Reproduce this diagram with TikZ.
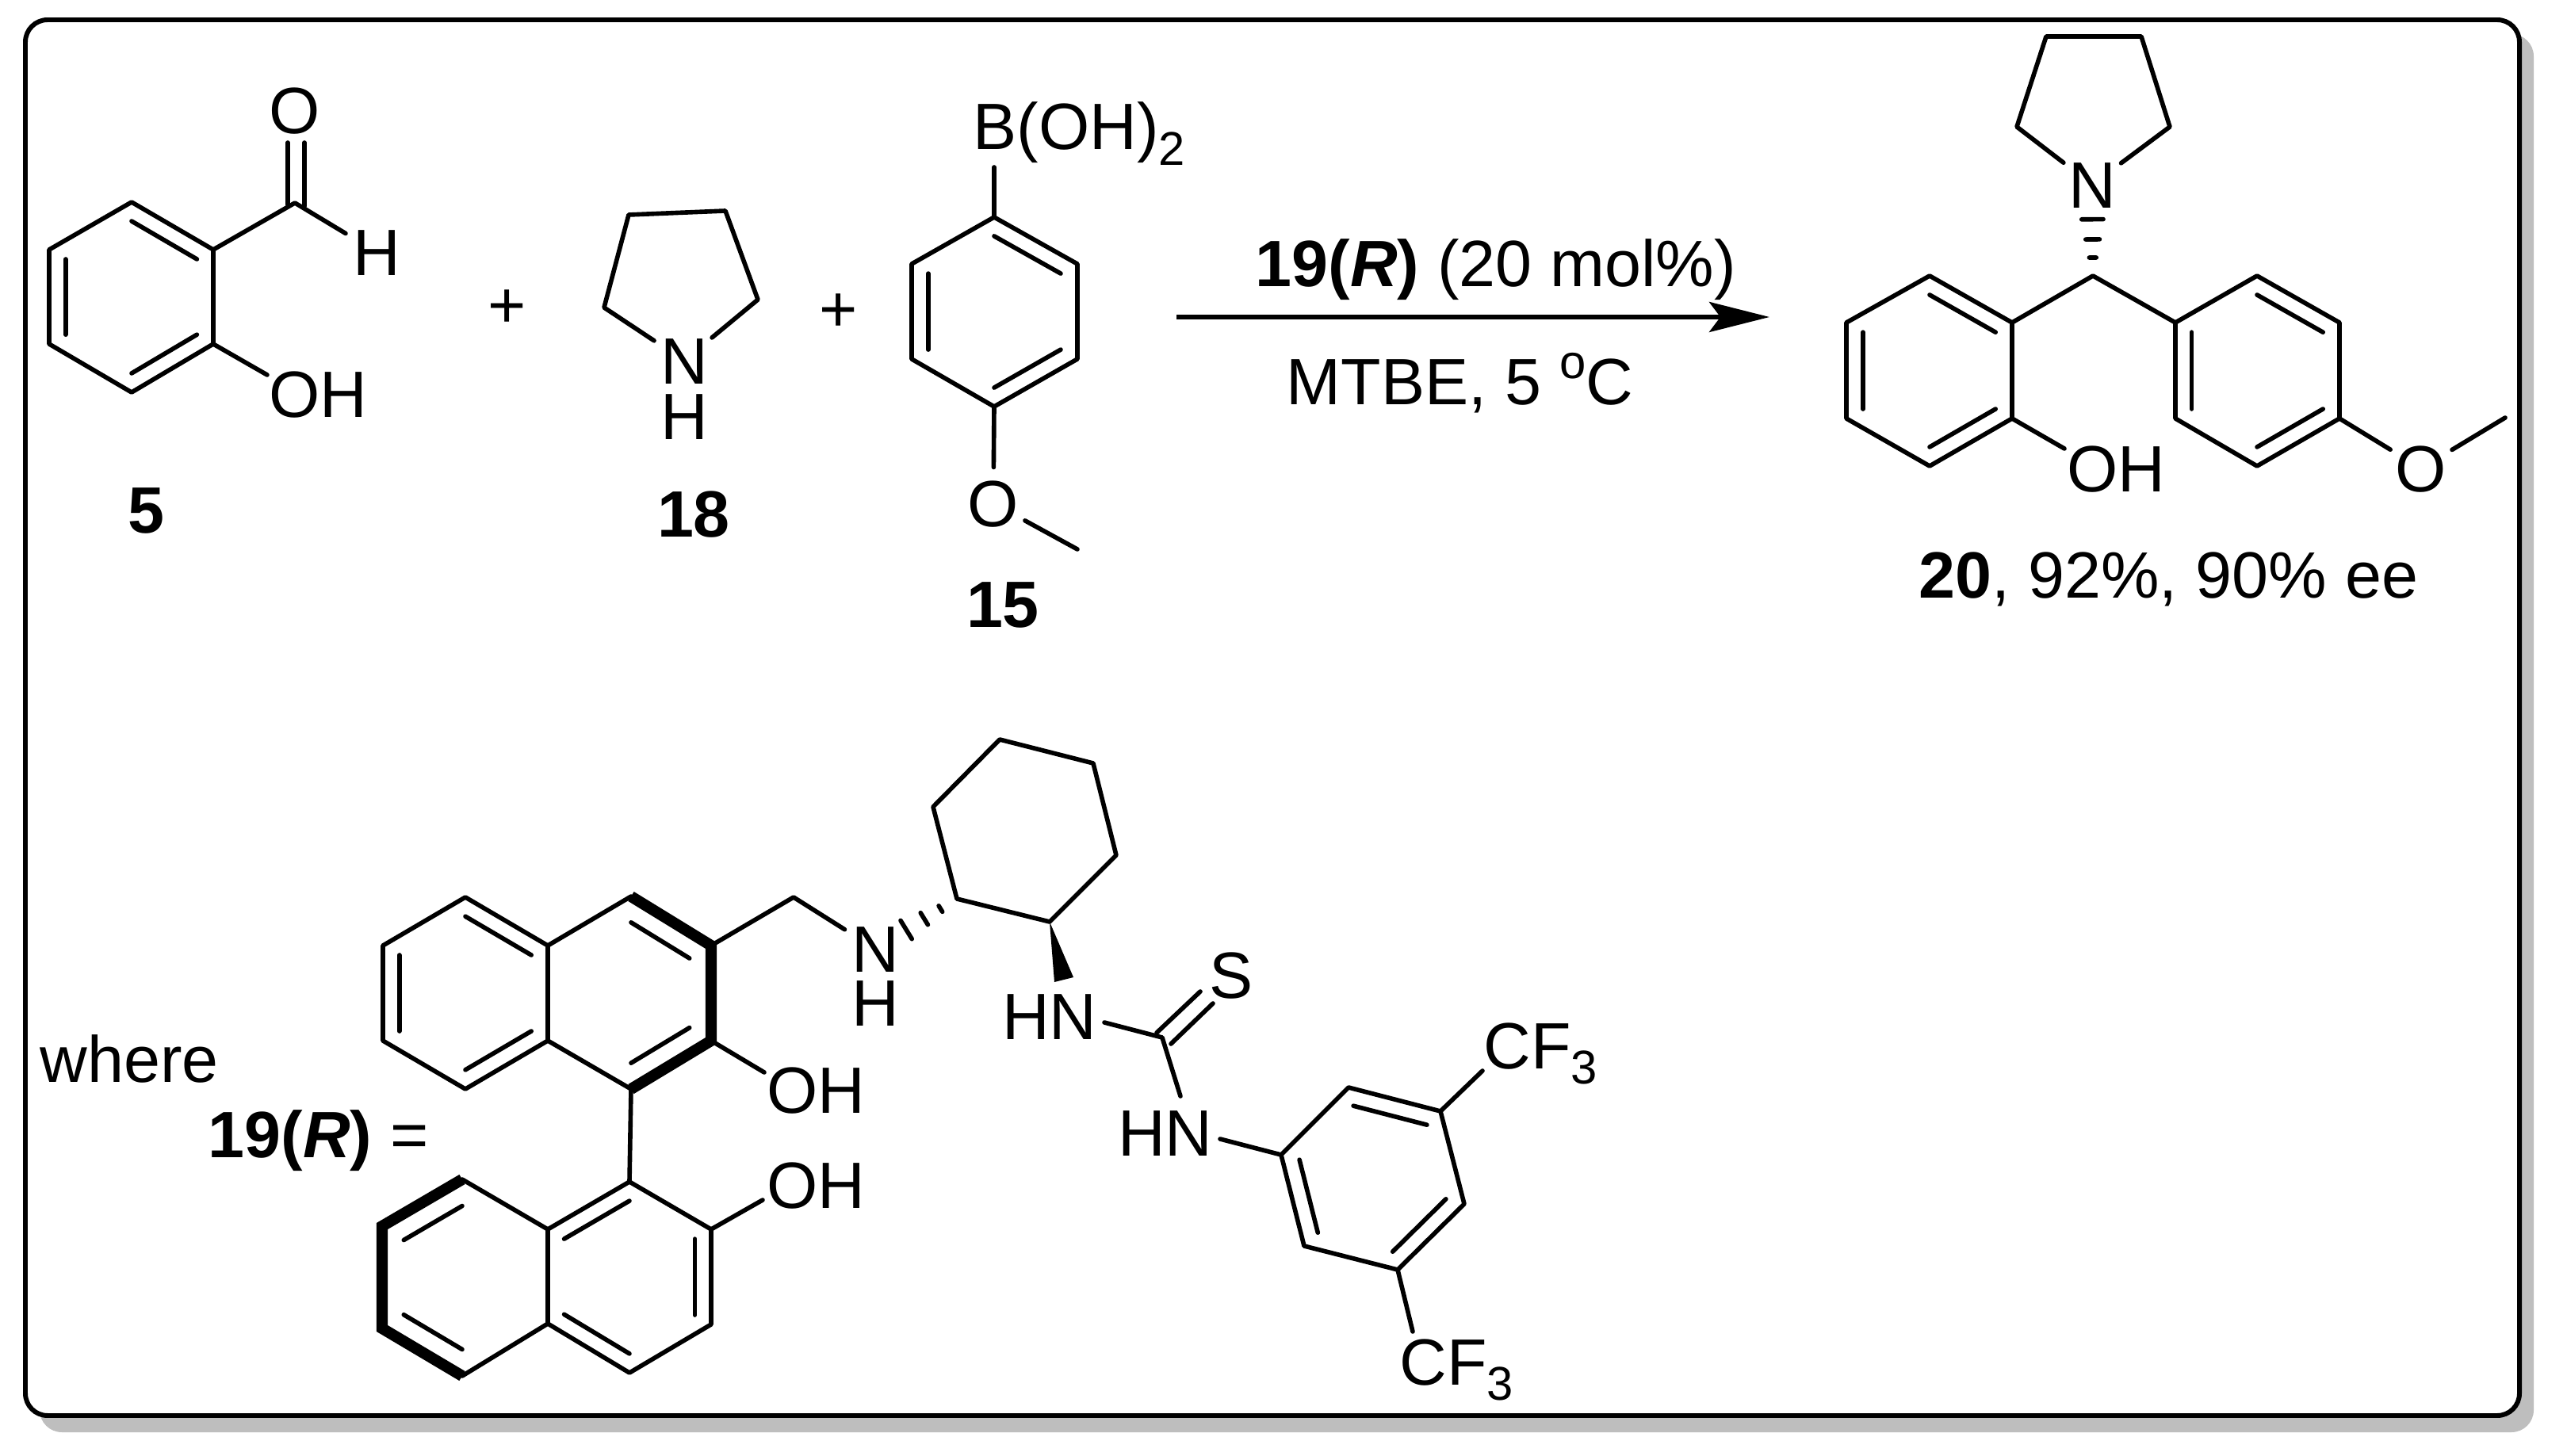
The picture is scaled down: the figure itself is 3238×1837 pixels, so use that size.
\documentclass[tikz,border=0pt]{standalone}
\usepackage{fontspec}
\setmainfont{Liberation Sans}
\usepackage{tikz}
\usetikzlibrary{calc,arrows.meta}
\definecolor{shadowgray}{HTML}{BEBEBE}
\newcommand{\lowsub}[1]{\raisebox{-5.6pt}{\fontsize{17}{17}\selectfont #1}}
\newcommand{\highsup}[1]{\raisebox{9.4pt}{\fontsize{17}{17}\selectfont #1}}
\newcommand{\innerbond}[4][0.2]{\draw[bond] ($(#2)!#1!(#4)$) -- ($(#3)!#1!(#4)$);}
\newcommand{\hashbond}[2]{\foreach \f in {0.2,0.4,0.62} {\draw[bond] ($(#1)!\f!(#2)!6.26pt*\f!90:(#2)$) -- ($(#1)!\f!(#2)!6.26pt*\f!-90:(#2)$);}}

\begin{document}
\begin{tikzpicture}[x=0.01cm, y=-0.01cm,
        every node/.style={font=\fontsize{23.5}{28}\selectfont, inner sep=0pt},
        bond/.style={line width=1.6pt, line cap=round, line join=round},
        boldbond/.style={line width=4pt, line join=miter},
        atom/.style={circle, minimum size=25.5pt, text height=16.8pt, text depth=0pt},
        chem/.style={text height=16.8pt, text depth=0pt},
        number/.style={font=\fontsize{23.5}{28}\selectfont\bfseries},
        reaction/.style={line width=1.6pt, -{Stealth[length=21.6pt, width=10.8pt, inset=4pt]}}]
    \useasboundingbox (0,0) rectangle (3238,1837);
    \fill[shadowgray, rounded corners=0.28cm] (50,43) rectangle (3196,1807);
    \draw[line width=1.7pt, fill=white, rounded corners=0.28cm] (32,25) rectangle (3178,1786);

    \coordinate (a1) at (166,255); \coordinate (a2) at (269,315); \coordinate (a3) at (269,434);
    \coordinate (a4) at (166,495); \coordinate (a5) at (62,434); \coordinate (a6) at (62,315);
    \coordinate (ac) at ($(a1)!0.5!(a4)$);
    \coordinate (cho) at (372,256);
    \coordinate (choa) at (363,180); \coordinate (choa2) at (363,258);
    \coordinate (chob) at (384,180); \coordinate (chob2) at (384,260);
    \coordinate (ohend1) at (337,473);
    \node[atom] (choO) at (372,139) {O};
    \node[atom] (choH) at (475,318) {H};
    \node[chem] (ohA) at (401,497) {OH};
    \draw[bond] (a1) -- (a2) -- (a3) -- (a4) -- (a5) -- (a6) -- cycle;
    \innerbond{a1}{a2}{ac}
    \innerbond{a3}{a4}{ac}
    \innerbond{a5}{a6}{ac}
    \draw[bond] (a2) -- (cho) -- (choH);
    \draw[bond] (choa) -- (choa2);
    \draw[bond] (chob) -- (chob2);
    \draw[bond] (a3) -- (ohend1);
    \node[number] (lab5) at (184,644) {5};

    \node (plusA) at (640,390) {+};

    \coordinate (b1) at (793,271); \coordinate (b2) at (915,266);
    \coordinate (b3) at (956,378); \coordinate (b4) at (762,388);
    \node[atom] (pyN) at (863,455) {N};
    \node[atom] (pyH) at (863,525) {H};
    \draw[bond] (pyN) -- (b4) -- (b1) -- (b2) -- (b3) -- (pyN);
    \node[number] (lab18) at (875,649) {18};

    \node (plusB) at (1058,395) {+};

    \coordinate (c1) at (1254,274); \coordinate (c2) at (1359,333); \coordinate (c3) at (1359,453);
    \coordinate (c4) at (1254,513); \coordinate (c5) at (1150,453); \coordinate (c6) at (1150,333);
    \coordinate (cc) at ($(c1)!0.5!(c4)$);
    \coordinate (bend) at (1254,211);
    \coordinate (me1) at (1359,693);
    \node[anchor=base west] (boron) at (1227,189) {B(OH)\lowsub{2}};
    \node[atom] (oA) at (1253,635) {O};
    \draw[bond] (c1) -- (c2) -- (c3) -- (c4) -- (c5) -- (c6) -- cycle;
    \innerbond{c1}{c2}{cc}
    \innerbond{c3}{c4}{cc}
    \innerbond{c5}{c6}{cc}
    \draw[bond] (c1) -- (bend);
    \draw[bond] (c4) -- (oA) -- (me1);
    \node[number] (lab15) at (1265,763) {15};

    \coordinate (arrowtail) at (1484,400);
    \coordinate (arrowtip) at (2232,400);
    \draw[reaction] (arrowtail) -- (arrowtip);
    \node[anchor=base west] (above) at (1583,362) {\textbf{19(\textit{R})} (20 mol\%)};
    \node[anchor=base west] (below) at (1622,511) {MTBE, 5 \highsup{o}C};

    \coordinate (d1) at (2581,46); \coordinate (d2) at (2701,46);
    \coordinate (d3) at (2737,160); \coordinate (d4) at (2544,160);
    \node[atom] (prN) at (2639,233) {N};
    \draw[bond] (prN) -- (d4) -- (d1) -- (d2) -- (d3) -- (prN);
    \coordinate (e) at (2640,348);
    \hashbond{e}{prN}
    \coordinate (f1) at (2434,348); \coordinate (f2) at (2538,407); \coordinate (f3) at (2538,528);
    \coordinate (f4) at (2434,588); \coordinate (f5) at (2329,528); \coordinate (f6) at (2329,407);
    \coordinate (fc) at ($(f1)!0.5!(f4)$);
    \draw[bond] (f1) -- (f2) -- (f3) -- (f4) -- (f5) -- (f6) -- cycle;
    \innerbond{f1}{f2}{fc}
    \innerbond{f3}{f4}{fc}
    \innerbond{f5}{f6}{fc}
    \coordinate (g1) at (2847,348); \coordinate (g2) at (2951,407); \coordinate (g3) at (2951,528);
    \coordinate (g4) at (2847,588); \coordinate (g5) at (2744,528); \coordinate (g6) at (2744,407);
    \coordinate (gc) at ($(g1)!0.5!(g4)$);
    \draw[bond] (g1) -- (g2) -- (g3) -- (g4) -- (g5) -- (g6) -- cycle;
    \innerbond{g1}{g2}{gc}
    \innerbond{g3}{g4}{gc}
    \innerbond{g5}{g6}{gc}
    \draw[bond] (f2) -- (e) -- (g6);
    \coordinate (ohend2) at (2604,566);
    \coordinate (me2) at (3160,527);
    \node[chem] (ohB) at (2669,591) {OH};
    \node[atom] (oB) at (3054,591) {O};
    \draw[bond] (f3) -- (ohend2);
    \draw[bond] (g3) -- (oB) -- (me2);
    \node[anchor=base west] (lab20) at (2420,755) {\textbf{20}, 92\%, 90\% ee};

    \node[anchor=base west] (where) at (50,1365) {where};
    \node[anchor=base west] (lab19) at (262,1460) {\textbf{19(\textit{R})} =};

    \coordinate (h1) at (587,1132); \coordinate (h2) at (691,1193); \coordinate (h3) at (691,1313);
    \coordinate (h4) at (587,1374); \coordinate (h5) at (483,1313); \coordinate (h6) at (483,1193);
    \coordinate (h7) at (796,1131); \coordinate (h8) at (897,1193);
    \coordinate (h9) at (897,1313); \coordinate (h10) at (796,1374);
    \coordinate (hc) at ($(h1)!0.5!(h4)$);
    \coordinate (hd) at ($(h7)!0.5!(h10)$);
    \draw[bond] (h1) -- (h2) -- (h3) -- (h4) -- (h5) -- (h6) -- cycle;
    \draw[bond] (h2) -- (h7);
    \draw[bond] (h3) -- (h10);
    \draw[boldbond] (h7) -- (h8) -- (h9) -- (h10);
    \innerbond{h1}{h2}{hc}
    \innerbond{h3}{h4}{hc}
    \innerbond{h5}{h6}{hc}
    \innerbond[0.27]{h7}{h8}{hd}
    \innerbond[0.27]{h9}{h10}{hd}

    \coordinate (i1) at (794,1491); \coordinate (i2) at (897,1551); \coordinate (i3) at (897,1671);
    \coordinate (i4) at (794,1732); \coordinate (i5) at (691,1670); \coordinate (i6) at (691,1551);
    \coordinate (i7) at (583,1488); \coordinate (i8) at (482,1547);
    \coordinate (i9) at (482,1676); \coordinate (i10) at (583,1736);
    \coordinate (ic) at ($(i1)!0.5!(i4)$);
    \coordinate (id) at ($(i7)!0.5!(i10)$);
    \draw[bond] (i1) -- (i2) -- (i3) -- (i4) -- (i5) -- (i6) -- cycle;
    \draw[bond] (i6) -- (i7);
    \draw[bond] (i5) -- (i10);
    \draw[boldbond] (i7) -- (i8) -- (i9) -- (i10);
    \innerbond{i1}{i6}{ic}
    \innerbond{i2}{i3}{ic}
    \innerbond{i4}{i5}{ic}
    \innerbond[0.27]{i7}{i8}{id}
    \innerbond[0.27]{i9}{i10}{id}
    \draw[bond] (h10) -- (i1);

    \coordinate (ohend3) at (964,1353);
    \coordinate (ohend4) at (962,1514);
    \node[chem] (ohC) at (1029,1375) {OH};
    \node[chem] (ohD) at (1029,1495) {OH};
    \draw[bond] (h9) -- (ohend3);
    \draw[bond] (i2) -- (ohend4);

    \coordinate (ch2) at (1001,1132);
    \node[atom] (amN) at (1104,1197) {N};
    \node[atom] (amH) at (1104,1265) {H};
    \draw[bond] (h8) -- (ch2) -- (amN);

    \coordinate (j1) at (1261,933); \coordinate (j2) at (1379,963); \coordinate (j3) at (1408,1079);
    \coordinate (j4) at (1324,1163); \coordinate (j5) at (1207,1134); \coordinate (j6) at (1177,1018);
    \draw[bond] (j1) -- (j2) -- (j3) -- (j4) -- (j5) -- (j6) -- cycle;
    \hashbond{j5}{amN}
    \coordinate (wedgeA) at (1330,1239);
    \coordinate (wedgeB) at (1354,1233);
    \fill (j4) -- (wedgeA) -- (wedgeB) -- cycle;

    \coordinate (k) at (1466,1309);
    \coordinate (hnendA) at (1393,1290);
    \coordinate (hnendB) at (1489,1383);
    \coordinate (hnendC) at (1539,1437);
    \coordinate (csa) at (1459,1303); \coordinate (csa2) at (1514,1251);
    \coordinate (csb) at (1477,1317); \coordinate (csb2) at (1530,1266);
    \node[chem] (hnA) at (1324,1282) {HN};
    \node[chem] (hnB) at (1470,1429) {HN};
    \node[atom] (thioS) at (1553,1230) {S};
    \draw[bond] (hnendA) -- (k) -- (hnendB);
    \draw[bond] (csa) -- (csa2);
    \draw[bond] (csb) -- (csb2);

    \coordinate (l1) at (1616,1457); \coordinate (l2) at (1701,1372); \coordinate (l3) at (1817,1402);
    \coordinate (l4) at (1847,1519); \coordinate (l5) at (1763,1602); \coordinate (l6) at (1645,1572);
    \coordinate (lc) at ($(l1)!0.5!(l4)$);
    \draw[bond] (l1) -- (l2) -- (l3) -- (l4) -- (l5) -- (l6) -- cycle;
    \innerbond{l2}{l3}{lc}
    \innerbond{l4}{l5}{lc}
    \innerbond{l6}{l1}{lc}
    \draw[bond] (hnendC) -- (l1);
    \coordinate (cfendA) at (1870,1351);
    \coordinate (cfendB) at (1782,1680);
    \draw[bond] (l3) -- (cfendA);
    \draw[bond] (l5) -- (cfendB);
    \node[anchor=base west] (cfA) at (1871,1348) {CF\lowsub{3}};
    \node[anchor=base west] (cfB) at (1765,1747) {CF\lowsub{3}};
\end{tikzpicture}
\end{document}
